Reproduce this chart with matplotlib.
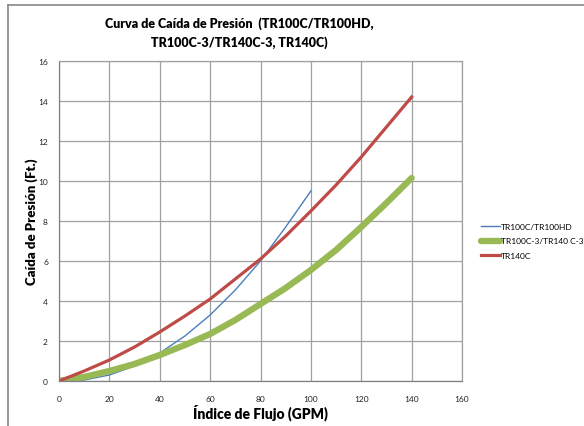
import matplotlib
matplotlib.use("Agg")
import matplotlib.pyplot as plt
from matplotlib.lines import Line2D

plt.rcParams['font.family'] = ['Lato', 'DejaVu Sans']

# data
gpm_a = [0, 10, 20, 30, 40, 50, 60, 70, 80, 90, 100]
tr100c = [0, 0.05, 0.3, 0.75, 1.4, 2.25, 3.3, 4.55, 6.0, 7.7, 9.5]

gpm_b = [0, 10, 20, 30, 40, 50, 60, 70, 80, 90, 100, 110, 120, 130, 140]
tr100c3 = [0, 0.2, 0.5, 0.85, 1.3, 1.8, 2.35, 3.05, 3.85, 4.65, 5.55, 6.55, 7.7, 8.9, 10.15]
tr140c = [0, 0.5, 1.05, 1.7, 2.45, 3.25, 4.1, 5.1, 6.1, 7.25, 8.5, 9.8, 11.2, 12.7, 14.2]

labels = ["TR100C/TR100HD", "TR100C-3/TR140 C-3", "TR140C"]
xticks = list(range(0, 161, 20))
yticks = list(range(0, 17, 2))

W, H = 584, 427
fig = plt.figure(figsize=(W / 100, H / 100), dpi=100)
ax = fig.add_axes([59 / W, 1 - 382 / H, (462 - 59) / W, (382 - 62) / H])

l1, = ax.plot(gpm_a, tr100c, color="#4a7ebb", lw=1.0, label=labels[0])
l2, = ax.plot(gpm_b, tr100c3, color="#98b954", lw=4.6, solid_capstyle="round",
              solid_joinstyle="round", label=labels[1])
l3, = ax.plot(gpm_b, tr140c, color="#be4b48", lw=2.3, solid_joinstyle="round", label=labels[2])

ax.set_xlim(0, 160)
ax.set_ylim(0, 16)
ax.set_xticks(xticks)
ax.set_yticks(yticks)
ax.grid(True, color="#a0a0a0", lw=0.9)
ax.set_axisbelow(True)
for s in ax.spines.values():
    s.set_color("#a0a0a0")
    s.set_linewidth(0.9)
ax.spines['left'].set_color("#808080")
ax.spines['bottom'].set_color("#808080")
ax.tick_params(length=0, labelsize=6, labelcolor="#222222")
ax.tick_params(axis='x', pad=10)
ax.tick_params(axis='y', pad=8)

ax.set_xlabel("Índice de Flujo (GPM)", fontsize=10, fontweight="heavy", labelpad=1)
ax.set_ylabel("Caída de Presión (Ft.)", fontsize=9.5, fontweight="heavy", labelpad=0)

fig.text(239 / W, 1 - 33 / H, "Curva de Caída de Presión  (TR100C/TR100HD,\nTR100C-3/TR140C-3, TR140C)",
         ha="center", va="center", fontsize=9, fontweight="heavy", linespacing=1.55)

fig.legend(handles=[l1, l2, l3], loc="center left", bbox_to_anchor=(478 / W, 1 - 242 / H),
           frameon=False, fontsize=6, handlelength=2.2, handletextpad=0.1, labelspacing=0.9,
           borderaxespad=0)

# outer chart border
fig.add_artist(Line2D([8 / W, 1], [1 - 6 / H, 1 - 6 / H], color="#888888", lw=1.2))
fig.add_artist(Line2D([8 / W, 8 / W], [0, 1 - 6 / H], color="#888888", lw=1.2))

fig.savefig("out.png", dpi=100)
